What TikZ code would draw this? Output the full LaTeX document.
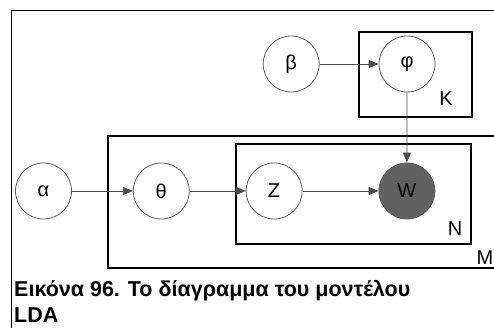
\documentclass[tikz,border=0pt]{standalone}
\usepackage{fontspec}
\setmainfont{Liberation Sans}
\usetikzlibrary{arrows.meta, positioning}

\begin{document}
\begin{tikzpicture}[x=1pt, y=-1pt,
    latent/.style={circle,draw=black!65,line width=0.8pt,minimum size=56pt,inner sep=0pt,font=\fontsize{20}{20}\selectfont},
    observed/.style={latent,fill=black!62},
    plate/.style={draw=black,line width=2.4pt},
    platelabel/.style={font=\fontsize{20}{20}\selectfont,anchor=base,inner sep=0pt},
    arrow/.style={-{Triangle[length=10pt,width=8pt]},draw=black!70,line width=0.8pt}
]
\useasboundingbox (0,0) rectangle (494,328);
% frame
\draw[line width=0.9pt] (500,10) -- (11,10) -- (11,330);
% plates
\draw[plate] (359,32) rectangle (472,117);
\draw[plate] (500,136) -- (108,136) -- (108,268) -- (500,268);
\draw[plate] (236,144) rectangle (471,244);
\node[platelabel] (klabel) at (446,106) {K};
\node[platelabel] (nlabel) at (455,235) {N};
\node[platelabel] (mlabel) at (485,264) {M};
% variables
\node[latent] (alpha) at (43.5,191) {α};
\node[latent,right=61pt of alpha] (theta) {θ};
\node[latent,right=56pt of theta] (z) {Z};
\node[observed,right=76pt of z] (w) {W};
\node[latent] (phi) at (407,64) {φ};
\node[latent,left=59pt of phi] (beta) {β};
\draw[arrow] (beta) -- (phi);
\draw[arrow] (phi) -- (w);
\draw[arrow] (alpha) -- (theta);
\draw[arrow] (theta) -- (z);
\draw[arrow] (z) -- (w);
% caption
\node[anchor=base west,align=left,inner sep=0pt,font=\bfseries\fontsize{21.5}{26}\selectfont] (caption) at (14,322.7) {Εικόνα 96. Το δίαγραμμα του μοντέλου\\LDA};
\end{tikzpicture}
\end{document}
